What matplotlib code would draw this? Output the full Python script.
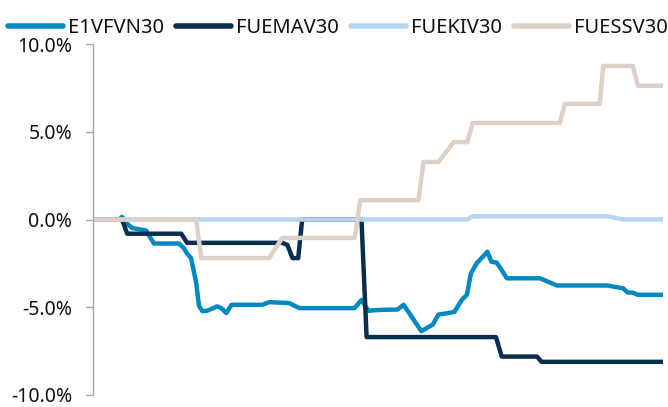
import matplotlib
matplotlib.use("Agg")
import matplotlib.pyplot as plt
from matplotlib.ticker import FuncFormatter

plt.rcParams['font.family'] = ['Noto Sans', 'DejaVu Sans']

# ---- data (x: relative position along period 0..100, y: cumulative return %) ----
e1_x = [0, 4.6, 5.1, 6.0, 6.9, 9.3, 9.8, 10.7, 15.1, 16.0, 16.5, 17.2, 18.1, 18.6, 19.2,
        20.0, 21.8, 22.5, 23.4, 24.3, 29.7, 30.9, 34.4, 36.2, 45.9, 47.1, 48.3, 50.3,
        53.4, 54.5, 57.6, 59.6, 60.6, 63.4, 64.7, 65.6, 66.3, 67.3, 69.2, 69.9, 70.8,
        71.7, 72.6, 78.4, 81.4, 90.2, 93.0, 93.8, 94.6, 95.6, 100]
e1_y = [0, 0, 0.15, -0.24, -0.49, -0.62, -0.9, -1.37, -1.37, -1.66, -1.94, -2.2, -3.6,
        -4.93, -5.23, -5.2, -4.95, -5.05, -5.33, -4.86, -4.86, -4.71, -4.76, -5.05, -5.05,
        -4.58, -5.2, -5.15, -5.13, -4.86, -6.36, -5.99, -5.42, -5.27, -4.58, -4.29, -3.07,
        -2.5, -1.84, -2.41, -2.45, -2.88, -3.35, -3.35, -3.76, -3.76, -3.92, -4.16, -4.16,
        -4.29, -4.29]

ma_x = [0, 5.1, 6.0, 15.5, 16.5, 33.2, 34.1, 35.0, 36.0, 36.7, 47.1, 48.0, 70.7, 71.7,
        77.9, 78.7, 100]
ma_y = [0, 0, -0.81, -0.81, -1.33, -1.33, -1.45, -2.2, -2.2, 0, 0, -6.7, -6.7, -7.81,
        -7.81, -8.11, -8.11]

ki_x = [0, 65.7, 66.6, 90.3, 93.0, 100]
ki_y = [0, 0, 0.18, 0.18, 0, 0]

ss_x = [0, 18.1, 19.0, 30.9, 33.2, 45.9, 46.9, 57.1, 58.0, 60.6, 63.3, 65.7, 66.6, 81.9,
        82.8, 88.9, 89.5, 94.7, 95.6, 100]
ss_y = [0, 0, -2.2, -2.2, -1.05, -1.05, 1.1, 1.1, 3.28, 3.28, 4.41, 4.41, 5.5, 5.5,
        6.59, 6.59, 8.75, 8.75, 7.62, 7.62]

names = ['E1VFVN30', 'FUEMAV30', 'FUEKIV30', 'FUESSV30']
colors = ['#0089C0', '#0B2D4E', '#B7D5F2', '#DDD1C5']
yticks = [-10, -5, 0, 5, 10]

fig = plt.figure(figsize=(6.68, 4.07), dpi=100)
ax = fig.add_axes([93 / 668, 12 / 407, (663 - 93) / 668, (395 - 44) / 407])

series = [(e1_x, e1_y), (ma_x, ma_y), (ki_x, ki_y), (ss_x, ss_y)]
for (xs, ys), n, c in zip(series, names, colors):
    ax.plot(xs, ys, color=c, lw=3.2, label=n, solid_capstyle='round',
            solid_joinstyle='round')

ax.set_xlim(0, 100)
ax.set_ylim(-10, 10)
ax.set_yticks(yticks)
ax.yaxis.set_major_formatter(FuncFormatter(lambda v, p: f"{v:.1f}%"))
ax.set_xticks([])
for s in ['top', 'right', 'bottom']:
    ax.spines[s].set_visible(False)
ax.spines['left'].set_color('#A6A6A6')
ax.spines['left'].set_linewidth(1.0)
ax.tick_params(axis='y', length=5, width=1.0, color='#A6A6A6', labelsize=14,
               labelcolor='#111111', pad=10)

leg = fig.legend(loc='center left', bbox_to_anchor=(8 / 668, 1 - 28 / 407), ncol=4,
                 frameon=False, fontsize=14.5, handlelength=2.75, handletextpad=0.22,
                 columnspacing=0.6, borderpad=0, borderaxespad=0)
for h in leg.get_lines():
    h.set_linewidth(4.0)
    h.set_solid_capstyle('round')
for t in leg.get_texts():
    t.set_color('#111111')

fig.savefig('out.png', dpi=100)
